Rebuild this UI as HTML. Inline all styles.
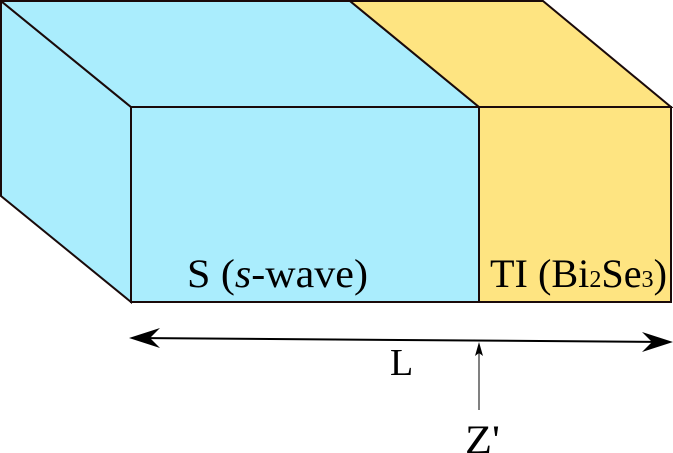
<!DOCTYPE html>
<html><head><meta charset="utf-8"><style>
body{margin:0;background:#fff;}
svg{display:block;}
text{font-family:"Liberation Serif",serif;fill:#000;}
</style></head><body>
<svg width="673" height="453" viewBox="0 0 673 453" xmlns="http://www.w3.org/2000/svg">
<polygon points="1,1 131,107 131,302 1,196" fill="#aaedfd" stroke="#1a0a0a" stroke-width="2"/>
<polygon points="1,1 350,1 479,107 131,107" fill="#aaedfd" stroke="#1a0a0a" stroke-width="2"/>
<polygon points="350,1 543,1 671,107 479,107" fill="#fee481" stroke="#1a0a0a" stroke-width="2"/>
<rect x="131" y="107" width="348" height="195" fill="#aaedfd" stroke="#1a0a0a" stroke-width="2"/>
<rect x="479" y="107" width="192" height="195" fill="#fee481" stroke="#1a0a0a" stroke-width="2"/>
<text x="187" y="287" font-size="40" textLength="181" lengthAdjust="spacingAndGlyphs">S (<tspan font-style="italic">s</tspan>-wave)</text>
<text x="490" y="287" font-size="40" textLength="177" lengthAdjust="spacingAndGlyphs">TI (Bi<tspan font-size="24">2</tspan>Se<tspan font-size="24">3</tspan>)</text>
<line x1="135" y1="338" x2="668" y2="342" stroke="#000" stroke-width="2"/>
<polygon points="129,338 160,328 150,338 160,348" fill="#000"/>
<polygon points="673,342 642,352 652,342 642,332" fill="#000"/>
<text x="390" y="375" font-size="38">L</text>
<line x1="479" y1="410" x2="479" y2="348" stroke="#000" stroke-width="1"/>
<polygon points="479,342 475,356 479,353 483,356" fill="#000"/>
<text x="465" y="453" font-size="40" textLength="35" lengthAdjust="spacingAndGlyphs">Z'</text>
</svg>
</body></html>
